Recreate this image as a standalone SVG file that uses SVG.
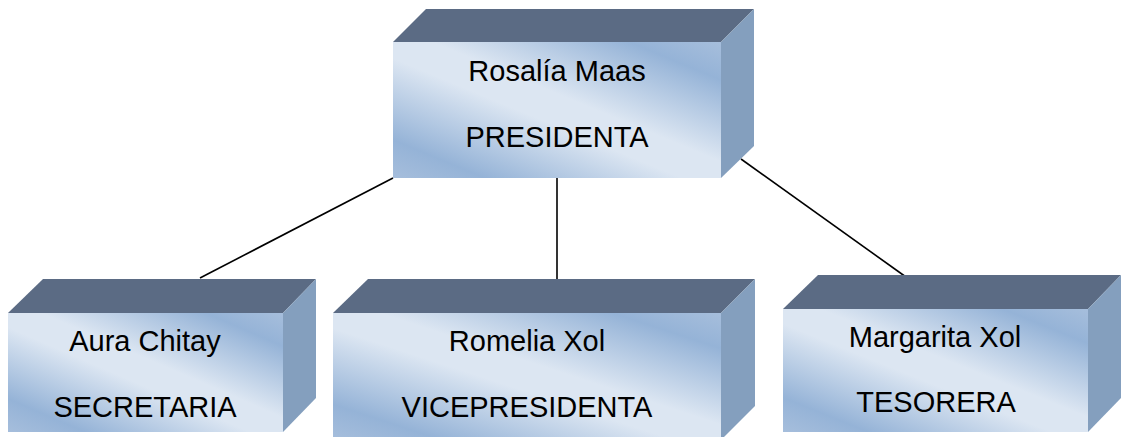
<svg xmlns="http://www.w3.org/2000/svg" width="1121" height="437" viewBox="0 0 1121 437">
<defs>
<linearGradient id="front" x1="0" y1="1" x2="1" y2="0">
<stop offset="0" stop-color="#a6bedc"/>
<stop offset="0.14" stop-color="#95b3d7"/>
<stop offset="0.44" stop-color="#dce6f2"/>
<stop offset="0.56" stop-color="#dce6f2"/>
<stop offset="0.86" stop-color="#95b3d7"/>
<stop offset="1" stop-color="#a6bedc"/>
</linearGradient>
</defs>
<style>
.front{fill:url(#front);}
.top{fill:#5b6b84;}
.side{fill:#849fbe;}
.lbl{font-family:"Liberation Sans",Arial,sans-serif;font-size:29px;fill:#000;text-anchor:middle;}
.conn{stroke:#000;stroke-width:1.6;fill:none;}
</style>
<rect width="1121" height="437" fill="#ffffff"/>
<g id="connectors">
<line class="conn" x1="393" y1="178" x2="200" y2="278"/>
<line class="conn" x1="557" y1="178" x2="557" y2="279"/>
<line class="conn" x1="741" y1="159" x2="906" y2="277"/>
</g>
<g id="presidenta">
<polygon class="top" points="393,42 426,9 754,9 721,42"/>
<polygon class="side" points="721,42 754,9 754,146 721,178"/>
<rect class="front" x="393" y="42" width="328" height="136"/>
<text class="lbl" x="557" y="81">Rosalía Maas</text>
<text class="lbl" x="557" y="147">PRESIDENTA</text>
</g>
<g id="secretaria">
<polygon class="top" points="8,313 43,279 316,279 283,313"/>
<polygon class="side" points="283,313 316,279 316,398 283,432"/>
<rect class="front" x="8" y="313" width="275" height="119"/>
<text class="lbl" x="145" y="351">Aura Chitay</text>
<text class="lbl" x="145" y="417">SECRETARIA</text>
</g>
<g id="vicepresidenta">
<polygon class="top" points="333,313 368,279 755,279 721,313"/>
<polygon class="side" points="721,313 755,279 755,406 721,440"/>
<rect class="front" x="333" y="313" width="388" height="127"/>
<text class="lbl" x="527" y="351">Romelia Xol</text>
<text class="lbl" x="527" y="417">VICEPRESIDENTA</text>
</g>
<g id="tesorera">
<polygon class="top" points="783,309 818,275 1121,275 1088,309"/>
<polygon class="side" points="1088,309 1121,275 1121,398 1088,432"/>
<rect class="front" x="783" y="309" width="305" height="123"/>
<text class="lbl" x="935" y="347">Margarita Xol</text>
<text class="lbl" x="936" y="412">TESORERA</text>
</g>
</svg>
